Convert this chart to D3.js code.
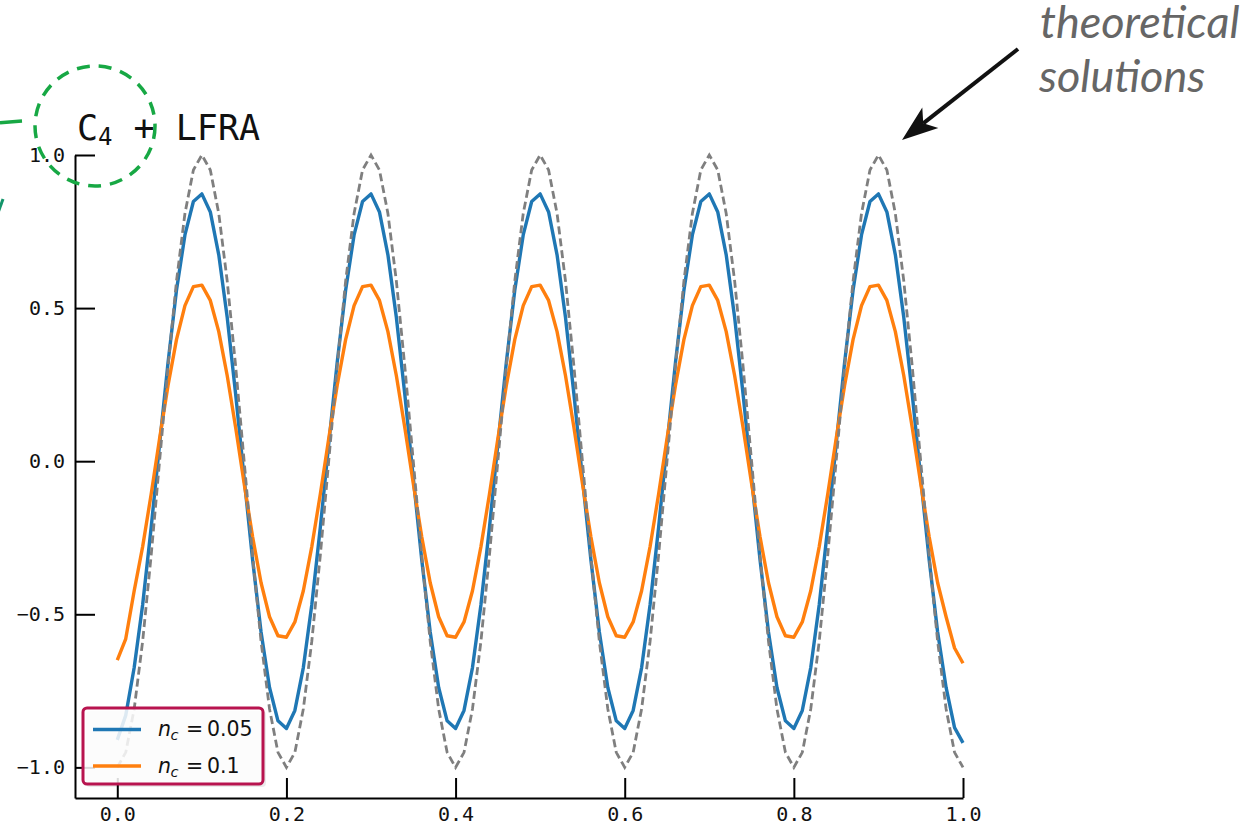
<!DOCTYPE html>
<html>
<head>
<meta charset="utf-8">
<script src="https://cdn.jsdelivr.net/npm/d3@7"></script>
<style>
  html, body { margin: 0; padding: 0; background: #fff; }
  svg { display: block; }
</style>
</head>
<body>
<svg id="chart" width="1253" height="831"></svg>
<script>
// Sampling grid: x = 0.00, 0.01, ..., 1.00
const xGrid = d3.range(0, 101).map(i => i / 100);

// Exact (theoretical) solution at the grid points
const theory = [
  -1, -0.951, -0.809, -0.588, -0.309, 0, 0.309, 0.588, 0.809, 0.951, 1, 0.951, 0.809, 0.588, 0.309, 0, -0.309, -0.588, -0.809, -0.951,
  -1, -0.951, -0.809, -0.588, -0.309, 0, 0.309, 0.588, 0.809, 0.951, 1, 0.951, 0.809, 0.588, 0.309, 0, -0.309, -0.588, -0.809, -0.951,
  -1, -0.951, -0.809, -0.588, -0.309, 0, 0.309, 0.588, 0.809, 0.951, 1, 0.951, 0.809, 0.588, 0.309, 0, -0.309, -0.588, -0.809, -0.951,
  -1, -0.951, -0.809, -0.588, -0.309, 0, 0.309, 0.588, 0.809, 0.951, 1, 0.951, 0.809, 0.588, 0.309, 0, -0.309, -0.588, -0.809, -0.951,
  -1, -0.951, -0.809, -0.588, -0.309, 0, 0.309, 0.588, 0.809, 0.951, 1, 0.951, 0.809, 0.588, 0.309, 0, -0.309, -0.588, -0.809, -0.951,
  -1
];

// Numerical solution, n_c = 0.05
const nc005 = [
  -0.91, -0.83, -0.674, -0.469, -0.218, 0.055, 0.322, 0.558, 0.739, 0.848, 0.873, 0.814, 0.674, 0.469, 0.218, -0.055, -0.322, -0.558, -0.739, -0.848,
  -0.873, -0.814, -0.674, -0.469, -0.218, 0.055, 0.322, 0.558, 0.739, 0.848, 0.873, 0.814, 0.674, 0.469, 0.218, -0.055, -0.322, -0.558, -0.739, -0.848,
  -0.873, -0.814, -0.674, -0.469, -0.218, 0.055, 0.322, 0.558, 0.739, 0.848, 0.873, 0.814, 0.674, 0.469, 0.218, -0.055, -0.322, -0.558, -0.739, -0.848,
  -0.873, -0.814, -0.674, -0.469, -0.218, 0.055, 0.322, 0.558, 0.739, 0.848, 0.873, 0.814, 0.674, 0.469, 0.218, -0.055, -0.322, -0.558, -0.739, -0.848,
  -0.873, -0.814, -0.674, -0.469, -0.218, 0.055, 0.322, 0.558, 0.739, 0.848, 0.873, 0.814, 0.674, 0.469, 0.218, -0.055, -0.322, -0.558, -0.739, -0.87,
  -0.92
];

// Numerical solution, n_c = 0.1
const nc01 = [
  -0.65, -0.58, -0.423, -0.279, -0.109, 0.073, 0.247, 0.397, 0.508, 0.570, 0.575, 0.525, 0.423, 0.279, 0.109, -0.073, -0.247, -0.397, -0.508, -0.570,
  -0.575, -0.525, -0.423, -0.279, -0.109, 0.073, 0.247, 0.397, 0.508, 0.570, 0.575, 0.525, 0.423, 0.279, 0.109, -0.073, -0.247, -0.397, -0.508, -0.570,
  -0.575, -0.525, -0.423, -0.279, -0.109, 0.073, 0.247, 0.397, 0.508, 0.570, 0.575, 0.525, 0.423, 0.279, 0.109, -0.073, -0.247, -0.397, -0.508, -0.570,
  -0.575, -0.525, -0.423, -0.279, -0.109, 0.073, 0.247, 0.397, 0.508, 0.570, 0.575, 0.525, 0.423, 0.279, 0.109, -0.073, -0.247, -0.397, -0.508, -0.570,
  -0.575, -0.525, -0.423, -0.279, -0.109, 0.073, 0.247, 0.397, 0.508, 0.570, 0.575, 0.525, 0.423, 0.279, 0.109, -0.073, -0.247, -0.397, -0.508, -0.61,
  -0.66
];

const xTicks = [0.0, 0.2, 0.4, 0.6, 0.8, 1.0];
const yTicks = [-1.0, -0.5, 0.0, 0.5, 1.0];
const legendLabels = ["0.05", "0.1"];

const svg = d3.select("#chart");

const x = d3.scaleLinear().domain([-0.05, 1.0]).range([75, 963]);
const y = d3.scaleLinear().domain([-1.1, 1.0]).range([798, 155]);

const fmt = d3.format(".1f");
const monoFont = "'DejaVu Sans Mono', 'Liberation Mono', monospace";

// Axes (ticks pointing inward)
const yAxis = d3.axisLeft(y).tickValues(yTicks).tickFormat(fmt)
  .tickSizeInner(-20).tickSizeOuter(0).tickPadding(10);
const xAxis = d3.axisBottom(x).tickValues(xTicks).tickFormat(fmt)
  .tickSizeInner(-20).tickSizeOuter(0).tickPadding(9);

const gy = svg.append("g").attr("transform", "translate(75,0)").call(yAxis);
const gx = svg.append("g").attr("transform", "translate(0,798)").call(xAxis);

[gx, gy].forEach(g => {
  g.select(".domain").attr("stroke", "#000").attr("stroke-width", 2);
  g.selectAll(".tick line").attr("stroke", "#000").attr("stroke-width", 2);
  g.selectAll(".tick text")
    .attr("fill", "#111")
    .style("font-family", monoFont)
    .style("font-size", "20px");
});

// Series
const line = d3.line()
  .x((d, i) => x(xGrid[i]))
  .y(d => y(d));

const plot = svg.append("g");
plot.append("path").datum(nc005)
  .attr("d", line).attr("fill", "none")
  .attr("stroke", "#1f77b4").attr("stroke-width", 3.4)
  .attr("stroke-linejoin", "round");
plot.append("path").datum(nc01)
  .attr("d", line).attr("fill", "none")
  .attr("stroke", "#ff7f0e").attr("stroke-width", 3.4)
  .attr("stroke-linejoin", "round");
plot.append("path").datum(theory)
  .attr("d", line).attr("fill", "none")
  .attr("stroke", "#7f7f7f").attr("stroke-width", 2.8)
  .attr("stroke-dasharray", "8 4");

// Title
const title = svg.append("text")
  .attr("x", 77).attr("y", 140)
  .style("font-family", monoFont)
  .style("font-size", "35px")
  .attr("fill", "#111");
title.append("tspan").text("C");
title.append("tspan").attr("dy", 5).style("font-size", "24px").text("4");
title.append("tspan").attr("dy", -5).text(" + LFRA");

// Green dashed highlight around the subscript term
svg.append("circle")
  .attr("cx", 95).attr("cy", 126).attr("r", 60)
  .attr("fill", "none")
  .attr("stroke", "#17a844").attr("stroke-width", 3.5)
  .attr("stroke-dasharray", "13 9");
svg.append("path")
  .attr("d", "M0,122.7 L22,121")
  .attr("stroke", "#17a844").attr("stroke-width", 3.5).attr("fill", "none");
svg.append("path")
  .attr("d", "M-2,213 L3,199")
  .attr("stroke", "#13956a").attr("stroke-width", 3).attr("fill", "none");

// Annotation with arrow
const ann = svg.append("g");
const tip = [902, 140], start = [1018, 49];
const dx = tip[0] - start[0], dy = tip[1] - start[1];
const len = Math.hypot(dx, dy);
const ux = dx / len, uy = dy / len, nx = -uy, ny = ux;
const headL = 36, headW = 13, notch = 27;
const bx = tip[0] - headL * ux, by = tip[1] - headL * uy;
const kx = tip[0] - notch * ux, ky = tip[1] - notch * uy;
ann.append("path")
  .attr("d", `M${start[0]},${start[1]} L${kx},${ky}`)
  .attr("stroke", "#111").attr("stroke-width", 4).attr("fill", "none");
ann.append("path")
  .attr("d", `M${tip[0]},${tip[1]} L${bx + headW * nx},${by + headW * ny} L${kx},${ky} L${bx - headW * nx},${by - headW * ny} Z`)
  .attr("fill", "#111");

const annText = svg.append("text")
  .style("font-family", "Lato, 'Open Sans', sans-serif")
  .style("font-style", "italic")
  .style("font-size", "45px")
  .attr("fill", "#666");
annText.append("tspan").attr("x", 1040).attr("y", 38).text("theoretical");
annText.append("tspan").attr("x", 1039).attr("y", 92).text("solutions");

// Legend
const legend = svg.append("g");
legend.append("rect")
  .attr("x", 86).attr("y", 711).attr("width", 180).attr("height", 76)
  .attr("rx", 4).attr("fill", "#000").attr("opacity", 0.08);
legend.append("rect")
  .attr("x", 83).attr("y", 708).attr("width", 180).attr("height", 76)
  .attr("rx", 4)
  .attr("fill", "#fff").attr("fill-opacity", 0.85)
  .attr("stroke", "#b8144f").attr("stroke-width", 3);

const legendColors = ["#1f77b4", "#ff7f0e"];
const rowY = [729.5, 766];
legendLabels.forEach((lab, i) => {
  legend.append("line")
    .attr("x1", 93).attr("x2", 141)
    .attr("y1", rowY[i]).attr("y2", rowY[i])
    .attr("stroke", legendColors[i]).attr("stroke-width", 3.4);
  const t = legend.append("text")
    .attr("y", rowY[i] + 6.5)
    .style("font-family", "'DejaVu Sans', sans-serif")
    .style("font-size", "20.5px")
    .attr("fill", "#111");
  t.append("tspan").attr("x", 158).style("font-style", "italic").text("n");
  t.append("tspan").attr("x", 170.5).attr("dy", 4).style("font-style", "italic").style("font-size", "14.5px").text("c");
  t.append("tspan").attr("x", 186).attr("dy", -4).text("=");
  t.append("tspan").attr("x", 207).text(lab);
});
</script>
</body>
</html>
